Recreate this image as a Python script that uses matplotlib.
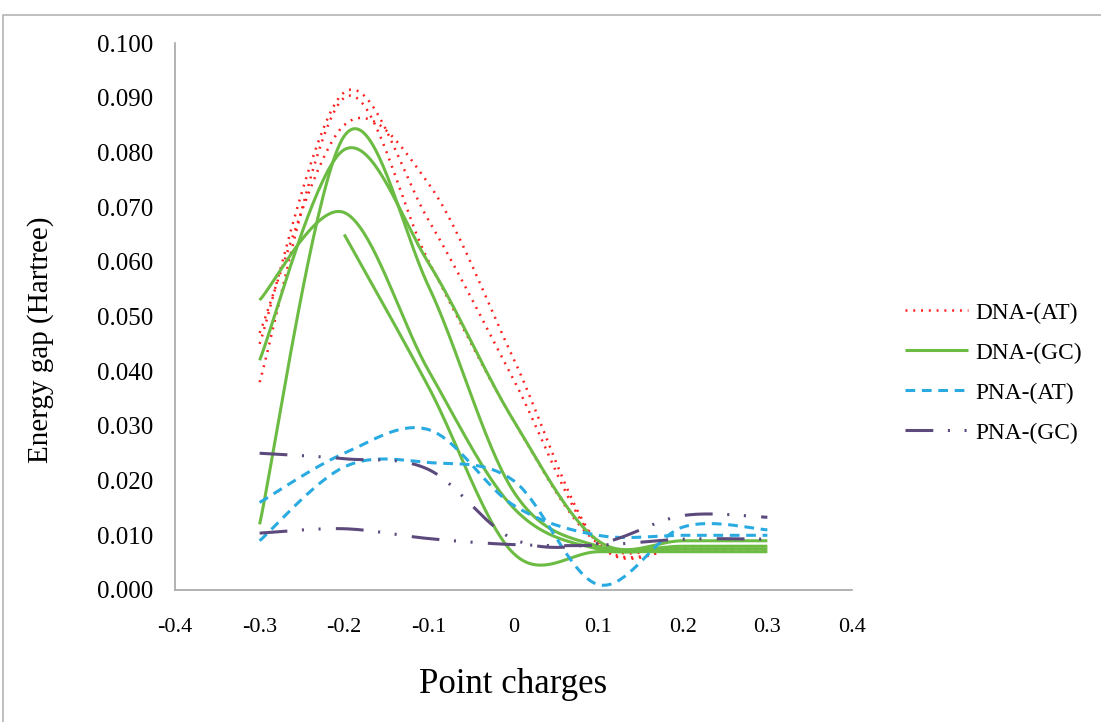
import numpy as np
import matplotlib.pyplot as plt
from matplotlib.patches import Rectangle

plt.rcParams['font.family'] = ['Liberation Serif', 'DejaVu Serif']
plt.rcParams['lines.scale_dashes'] = False

charges = [-0.3, -0.2, -0.1, 0.0, 0.1, 0.2, 0.3]

# DNA-(AT), three runs
dna_at_1 = [0.038, 0.090, 0.060, 0.031, 0.0085, 0.0080, 0.0080]
dna_at_2 = [0.045, 0.091, 0.0675, 0.0385, 0.0085, 0.0075, 0.0075]
dna_at_3 = [0.047, 0.085, 0.0742, 0.0423, 0.0085, 0.0075, 0.0070]

# DNA-(GC), four runs (last one starts at -0.2)
dna_gc_1 = [0.042, 0.0805, 0.0597, 0.031, 0.009, 0.009, 0.009]
dna_gc_2 = [0.012, 0.083, 0.0554, 0.018, 0.008, 0.008, 0.008]
dna_gc_3 = [0.053, 0.069, 0.040, 0.015, 0.0075, 0.0075, 0.0075]
dna_gc_4 = [np.nan, 0.065, 0.037, 0.0067, 0.007, 0.007, 0.007]

# PNA-(AT), two runs
pna_at_1 = [0.016, 0.025, 0.0293, 0.0155, 0.010, 0.010, 0.010]
pna_at_2 = [0.009, 0.0225, 0.0233, 0.020, 0.001, 0.0115, 0.011]

# PNA-(GC), two runs
pna_gc_1 = [0.025, 0.024, 0.022, 0.0093, 0.0085, 0.0136, 0.0133]
pna_gc_2 = [0.0104, 0.0112, 0.0094, 0.0083, 0.0082, 0.0093, 0.0093]


def smooth(xs, ys, n=40):
    # Excel style smoothed line: cubic Bezier, control points from neighbours / 6
    xs = np.asarray(xs, float)
    ys = np.asarray(ys, float)
    ok = ~np.isnan(ys)
    p = np.column_stack([xs[ok], ys[ok]])
    m = len(p)
    out = []
    t = np.linspace(0, 1, n)[:, None]
    for i in range(m - 1):
        p0 = p[i]
        p3 = p[i + 1]
        prev = p[i - 1] if i > 0 else p[i]
        nxt = p[i + 2] if i + 2 < m else p[i + 1]
        c1 = p0 + (p3 - prev) / 6
        c2 = p3 - (nxt - p0) / 6
        seg = ((1 - t) ** 3) * p0 + 3 * ((1 - t) ** 2) * t * c1 + 3 * (1 - t) * t ** 2 * c2 + t ** 3 * p3
        out.append(seg if i == 0 else seg[1:])
    seg = np.vstack(out)
    return seg[:, 0], seg[:, 1]


fig = plt.figure(figsize=(11.01, 7.22), dpi=100)
ax = fig.add_axes([175 / 1101, 1 - 590 / 722, (852 - 175) / 1101, (590 - 43) / 722])

red = '#ff1f1f'
green = '#6cbb43'
blue = '#29abe2'
purple = '#5c4a7d'

styles = {
    'DNA-(AT)': dict(color=red, lw=1.8, linestyle=(0, (1.4, 4.2))),
    'DNA-(GC)': dict(color=green, lw=2.2, linestyle='-'),
    'PNA-(AT)': dict(color=blue, lw=2.2, linestyle=(0, (7.0, 4.8))),
    'PNA-(GC)': dict(color=purple, lw=2.2, linestyle=(0, (20, 10.5, 1.5, 10.5, 1.5, 11))),
}

groups = [
    ('DNA-(AT)', [dna_at_1, dna_at_2, dna_at_3]),
    ('DNA-(GC)', [dna_gc_1, dna_gc_2, dna_gc_3, dna_gc_4]),
    ('PNA-(AT)', [pna_at_1, pna_at_2]),
    ('PNA-(GC)', [pna_gc_1, pna_gc_2]),
]

for name, runs in groups:
    for k, ys in enumerate(runs):
        sx, sy = smooth(charges, ys)
        ax.plot(sx, sy, label=name if k == 0 else None, solid_capstyle='butt',
                dash_capstyle='butt', **styles[name])

ax.set_xlim(-0.4, 0.4)
ax.set_ylim(0, 0.1)
ax.set_xticks(np.arange(-0.4, 0.41, 0.1))
ax.set_xticklabels(['-0.4', '-0.3', '-0.2', '-0.1', '0', '0.1', '0.2', '0.3', '0.4'])
ax.set_yticks(np.arange(0, 0.1001, 0.01))
ax.set_yticklabels(['%.3f' % v for v in np.arange(0, 0.1001, 0.01)])
ax.tick_params(axis='both', length=0)
ax.tick_params(axis='y', pad=16, labelsize=18)
ax.tick_params(axis='x', pad=20, labelsize=16)

for s in ['top', 'right']:
    ax.spines[s].set_visible(False)
for s in ['left', 'bottom']:
    ax.spines[s].set_color('#a6a6a6')
    ax.spines[s].set_linewidth(1.2)

ax.set_xlabel('Point charges', fontsize=25)
ax.set_ylabel('Energy gap (Hartree)', fontsize=21)
ax.xaxis.set_label_coords(0.5, -0.142)
ax.yaxis.set_label_coords(-0.178, 0.457)

ax.legend(loc='center left', bbox_to_anchor=(905 / 1101, 1 - 373 / 722),
          bbox_transform=fig.transFigure, frameon=False, fontsize=16.8,
          handlelength=2.7, handletextpad=0.3, labelspacing=0.8,
          borderpad=0, borderaxespad=0)

fig.patches.append(Rectangle((3 / 1101, -0.05), 1.1, 1 - 15 / 722 + 0.05,
                             transform=fig.transFigure, fill=False,
                             edgecolor='#b4b4b4', lw=1.2))

fig.savefig('out.png', dpi=100)
